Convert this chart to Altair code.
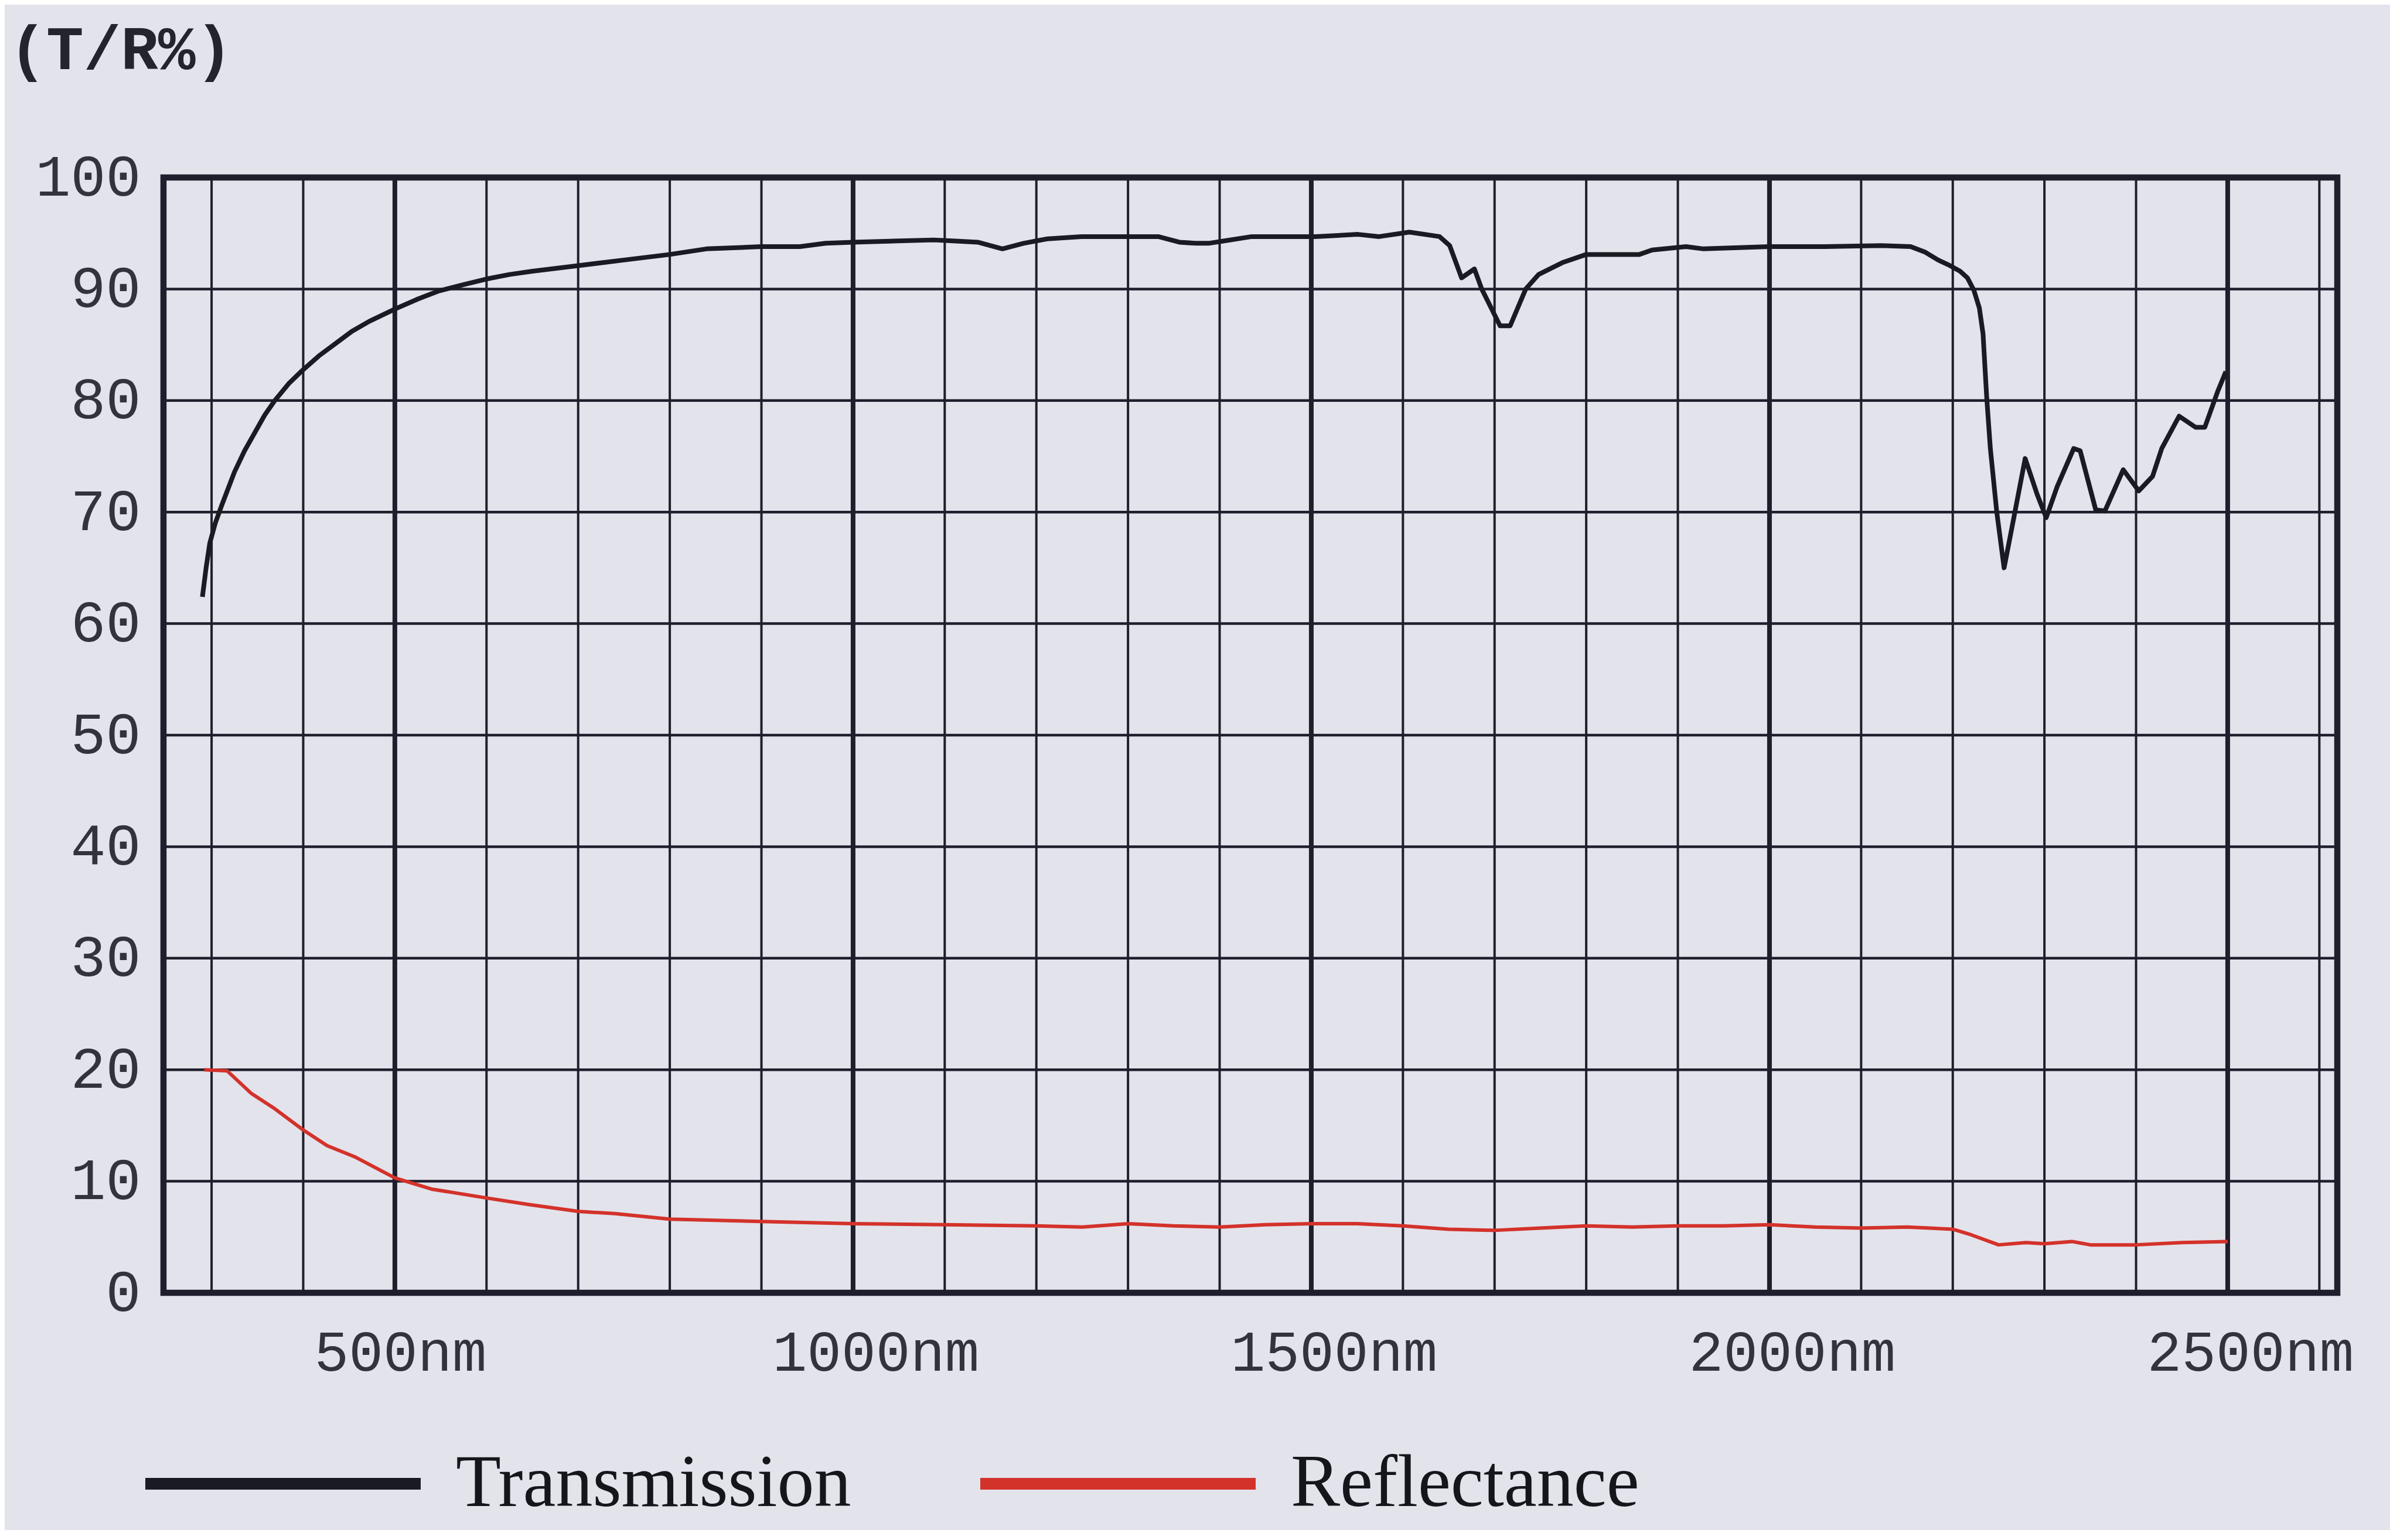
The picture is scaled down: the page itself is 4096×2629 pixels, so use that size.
import altair as alt
import pandas as pd

# ---- data ----
wl_T = [290, 294, 298, 304, 311, 318, 325, 336, 347, 358, 369, 384, 399, 417, 435, 453, 472, 500,
        525, 547, 575, 600, 625, 650, 700, 750, 800, 840, 900,
        942, 970, 1000, 1088, 1112, 1136, 1163, 1186, 1212, 1249, 1296, 1333, 1356, 1374, 1388, 1404,
        1435, 1504, 1551, 1574, 1607, 1640, 1651, 1664, 1678, 1686, 1706, 1717, 1734, 1748, 1775,
        1800, 1858, 1872, 1909, 1928, 2000, 2060, 2122, 2154, 2170, 2184, 2197, 2208, 2216, 2223,
        2229, 2233, 2237, 2241,
        2248, 2256, 2265, 2279, 2292, 2302, 2314, 2332, 2339, 2356, 2366, 2386, 2403, 2418, 2428,
        2447, 2465, 2475, 2489, 2498]
T = [62.4, 65.0, 67.2, 69.0, 70.6, 72.1, 73.6, 75.5, 77.1, 78.7, 80.0, 81.5, 82.7, 84.0, 85.1, 86.2,
     87.1, 88.2, 89.1, 89.8, 90.4, 90.9, 91.3, 91.6, 92.1, 92.6, 93.1,
     93.6, 93.8, 93.8, 94.1, 94.2, 94.4, 94.3, 94.2, 93.6, 94.1, 94.5, 94.7, 94.7, 94.7, 94.2, 94.1,
     94.1, 94.3, 94.7, 94.7, 94.9, 94.7, 95.1, 94.7, 93.9, 91.0, 91.8, 90.0, 86.7, 86.7, 90.0, 91.3,
     92.4, 93.1, 93.1, 93.5, 93.8, 93.6, 93.8, 93.8, 93.9, 93.8, 93.3, 92.6, 92.1, 91.6, 91.0, 89.9,
     88.3, 86.0, 80.3, 75.7,
     70.0, 65.0, 68.8, 74.8, 71.6, 69.5, 72.3, 75.7, 75.5, 70.2, 70.1, 73.8, 71.9, 73.2, 75.7, 78.6,
     77.6, 77.6, 80.8, 82.6]

wl_R = [292, 317, 343, 369, 400, 426, 456, 500, 540, 600, 647, 700, 740, 800, 900, 1000, 1100, 1200,
        1250, 1300, 1350, 1400, 1450, 1500, 1550, 1600, 1650, 1700, 1750, 1800, 1850, 1900, 1950,
        2000, 2050, 2100, 2150, 2200, 2220, 2250, 2280, 2300, 2330, 2350, 2400, 2450, 2500]
R = [20.0, 19.9, 17.9, 16.5, 14.6, 13.2, 12.2, 10.3, 9.3, 8.5, 7.9, 7.3, 7.1, 6.6, 6.4, 6.2, 6.1, 6.0,
     5.9, 6.2, 6.0, 5.9, 6.1, 6.2, 6.2, 6.0, 5.7, 5.6, 5.8, 6.0, 5.9, 6.0, 6.0, 6.1, 5.9, 5.8, 5.9,
     5.7, 5.2, 4.3, 4.5, 4.4, 4.6, 4.3, 4.3, 4.5, 4.6]

x_minor = [300, 400, 600, 700, 800, 900, 1100, 1200, 1300, 1400, 1600, 1700, 1800, 1900,
           2100, 2200, 2300, 2400, 2600]
x_major = [500, 1000, 1500, 2000, 2500]
y_grid = [10, 20, 30, 40, 50, 60, 70, 80, 90]
y_ticks = [0, 10, 20, 30, 40, 50, 60, 70, 80, 90, 100]
series = ["Transmission", "Reflectance"]

# ---- styling ----
BG = "#e3e3ec"
GRID = "#1e1e2c"
BLACK = "#1a1a22"
RED = "#d3322a"

xscale = alt.Scale(domain=[247.5, 2619.6], nice=False, zero=False)
yscale = alt.Scale(domain=[0, 100], nice=False, zero=False)
cscale = alt.Scale(domain=series, range=[BLACK, RED])

x_axis = alt.Axis(values=x_major, labelExpr="datum.value + 'nm'", tickSize=0, domain=False,
                  grid=False, labelAlign="left", labelOffset=-138, labelBaseline="alphabetic",
                  labelPadding=132, labelFont="Liberation Mono", labelFontSize=98,
                  labelColor="#33333d", labelFlush=False, labelOverlap=False, labelLimit=0,
                  title=None)
y_axis = alt.Axis(values=y_ticks, tickSize=0, domain=False, grid=False, labelPadding=39,
                  labelFont="Liberation Mono", labelFontSize=100, labelColor="#33333d",
                  labelFlush=False, labelOverlap=False, labelBaseline="middle", labelLimit=0,
                  title="(T/R%)", titleAngle=0, titleX=-264, titleY=-186, titleAlign="left",
                  titleBaseline="alphabetic", titleFont="Liberation Mono", titleFontWeight="bold",
                  titleFontSize=106, titleColor="#24242e")

legend = alt.Legend(orient="none", legendX=-41, legendY=1985, direction="horizontal", title=None,
                    symbolType="stroke", symbolSize=220900, symbolStrokeWidth=20,
                    labelFont="Liberation Serif", labelFontSize=126, labelColor="#15151c",
                    labelOffset=50, columnPadding=180, padding=0, labelLimit=0)

dfT = pd.DataFrame({"wl": wl_T, "v": T, "series": series[0]})
dfR = pd.DataFrame({"wl": wl_R, "v": R, "series": series[1]})

g_minor = alt.Chart(pd.DataFrame({"x": x_minor})).mark_rule(color=GRID, strokeWidth=4).encode(
    x=alt.X("x:Q", scale=xscale, axis=x_axis))
g_major = alt.Chart(pd.DataFrame({"x": x_major})).mark_rule(color=GRID, strokeWidth=8).encode(
    x=alt.X("x:Q", scale=xscale, axis=x_axis))
g_y = alt.Chart(pd.DataFrame({"y": y_grid})).mark_rule(color=GRID, strokeWidth=4.5).encode(
    y=alt.Y("y:Q", scale=yscale, axis=y_axis))

lineT = alt.Chart(dfT).mark_line(strokeWidth=8, strokeJoin="round").encode(
    x=alt.X("wl:Q", scale=xscale, axis=x_axis),
    y=alt.Y("v:Q", scale=yscale, axis=y_axis),
    color=alt.Color("series:N", scale=cscale, legend=legend))
lineR = alt.Chart(dfR).mark_line(strokeWidth=6, strokeJoin="round").encode(
    x=alt.X("wl:Q", scale=xscale, axis=x_axis),
    y=alt.Y("v:Q", scale=yscale, axis=y_axis),
    color=alt.Color("series:N", scale=cscale, legend=legend))

chart = alt.layer(g_minor, g_major, g_y, lineT, lineR).properties(
    width=3710, height=1904,
    autosize=alt.AutoSizeParams(type="none"),
    padding={"left": 271, "top": 295, "right": 90, "bottom": 405},
    background=BG,
).configure_view(stroke=GRID, strokeWidth=10.5, fill=BG)

chart.save("out.html", embed_options={"renderer": "svg", "actions": False})
